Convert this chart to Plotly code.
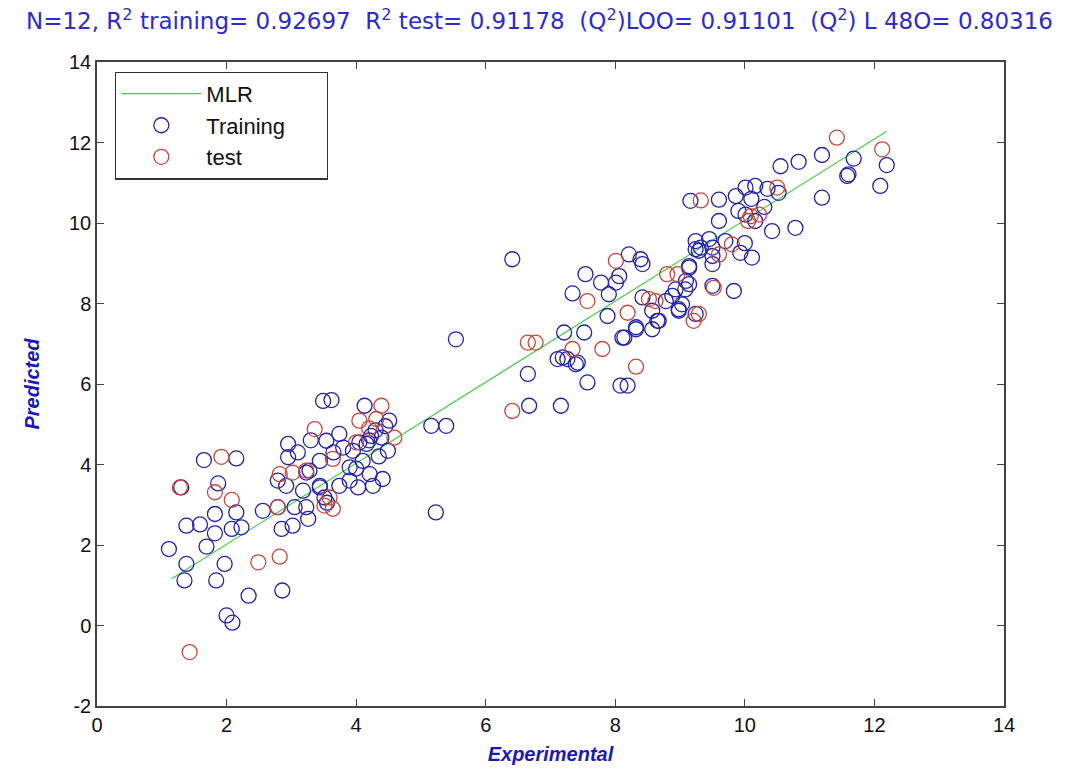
import plotly.graph_objects as go

# Training set (Experimental, Predicted)
train_x = [1.65, 2.15, 1.30, 1.87, 2.15, 1.82, 1.38, 1.59, 1.82, 2.08, 2.23, 1.11, 1.69, 1.38, 1.35, 1.84, 1.97,
           2.34, 2.86, 2.00, 2.09, 2.56, 2.79, 3.05, 2.85, 3.02, 3.26, 2.95, 2.95, 2.79, 2.92, 3.44, 3.23,
           3.49, 3.62, 4.13, 4.51, 4.23, 4.39, 4.16, 4.49, 3.74, 3.54, 3.80, 3.95, 3.28, 3.44, 3.90, 4.10,
           4.21, 3.90, 4.41, 3.44, 3.74, 4.03, 4.26, 3.18, 3.23, 3.51, 4.05, 4.30, 4.45, 4.20, 3.65, 3.10,
           3.30, 3.55, 4.00, 4.35,
           5.23, 5.16, 5.39, 5.54, 6.41, 6.65, 6.67, 7.16, 7.11, 7.26, 7.39, 7.57, 8.08, 8.19, 7.52, 7.21,
           7.19, 7.42, 7.88, 8.14, 8.32, 7.34, 7.54, 7.78, 7.90, 8.01, 8.06, 8.21, 8.39, 8.42, 8.42, 8.57,
           8.65, 8.57, 8.78, 8.88, 8.98, 9.08, 9.14, 9.14, 9.29, 9.50, 9.50, 8.32, 8.11, 8.93, 8.98, 8.67,
           9.24, 9.03,
           9.16, 9.60, 10.01, 10.16, 10.52, 9.86, 10.01, 10.16, 9.60, 10.42, 10.78, 11.19, 11.60, 11.58,
           11.68, 12.19, 12.09, 10.55, 10.83, 11.19, 9.32, 9.50, 9.24, 9.93, 10.11, 9.50, 9.14, 9.09, 9.83,
           9.24, 9.45, 9.70, 10.00, 10.30, 10.10, 10.35, 9.90]
train_y = [4.11, 4.15, 3.43, 3.53, 2.81, 2.77, 2.48, 2.51, 2.29, 2.40, 2.44, 1.90, 1.96, 1.53, 1.12, 1.12, 1.53,
           0.74, 0.87, 0.25, 0.07, 2.85, 2.94, 2.94, 2.40, 2.48, 2.65, 4.51, 4.18, 3.60, 3.47, 3.47, 3.80,
           5.58, 5.60, 5.46, 5.09, 4.71, 4.67, 4.51, 4.34, 4.76, 4.59, 4.42, 4.34, 3.85, 4.09, 3.93, 4.09,
           3.76, 3.60, 3.64, 3.43, 3.47, 3.43, 3.47, 3.35, 2.94, 3.18, 4.55, 4.85, 4.95, 4.60, 4.30, 4.30,
           4.60, 3.05, 3.90, 4.20,
           2.81, 4.96, 4.96, 7.11, 9.10, 6.25, 5.46, 5.46, 6.62, 6.62, 6.49, 6.04, 5.96, 5.96, 7.28, 7.28,
           6.66, 6.53, 7.69, 7.15, 7.36, 8.25, 8.73, 8.52, 8.23, 8.52, 8.68, 9.22, 9.10, 8.98, 8.15, 7.82,
           7.57, 7.36, 8.06, 8.19, 7.82, 8.35, 8.48, 8.93, 9.31, 9.18, 8.44, 7.41, 7.15, 8.35, 7.86, 7.57,
           7.74, 7.98,
           10.55, 10.58, 10.88, 10.92, 10.75, 10.67, 10.21, 10.05, 10.05, 9.80, 9.88, 10.63, 11.21, 11.17,
           11.60, 11.44, 10.92, 11.41, 11.52, 11.69, 9.39, 9.39, 9.35, 9.26, 9.14, 8.98, 8.89, 8.56, 8.31,
           9.55, 9.60, 9.55, 9.50, 10.40, 10.60, 10.85, 10.30]

# Test set (Experimental, Predicted)
test_x = [1.92, 1.28, 1.82, 2.08, 2.49, 2.82, 1.43, 3.36, 3.64, 3.59, 3.23, 4.39, 4.05, 4.31, 4.59, 3.51,
          2.82, 3.02, 2.79, 3.64, 6.41, 6.65, 6.77, 7.34, 7.80, 8.32, 8.19, 8.52, 7.57, 8.01, 8.80, 8.96,
          9.29, 9.21, 9.32, 10.50, 10.09, 10.22, 9.60, 9.80, 9.52, 8.62, 11.42, 12.12, 4.20, 4.00, 10.05]
test_y = [4.19, 3.43, 3.31, 3.12, 1.57, 1.71, -0.66, 4.88, 4.14, 3.18, 3.85, 5.46, 5.09, 5.13, 4.67, 2.98,
          3.76, 3.80, 2.94, 2.90, 5.33, 7.03, 7.03, 6.87, 6.87, 6.43, 7.77, 8.11, 8.06, 9.06, 8.73, 8.73,
          7.74, 7.57, 10.56, 10.88, 10.17, 10.21, 9.22, 9.47, 8.39, 8.06, 12.12, 11.83, 4.90, 4.55, 10.05]

# MLR fit line end points
mlr_x = [1.15, 12.19]
mlr_y = [1.16, 12.28]

x_ticks = [0, 2, 4, 6, 8, 10, 12, 14]
y_ticks = [-2, 0, 2, 4, 6, 8, 10, 12, 14]
y_tick_labels = ["-2", "0", "2", "4", "6", "8", "10", "12", "14"]

FONT = "Liberation Sans, Arial, sans-serif"
NB = "\u00a0"

fig = go.Figure()
fig.add_trace(go.Scatter(x=mlr_x, y=mlr_y, mode="lines", name="MLR",
                         line=dict(color="#44cc44", width=1.1)))
fig.add_trace(go.Scatter(x=train_x, y=train_y, mode="markers", name="Training" + NB * 6,
                         marker=dict(symbol="circle-open", size=15, color="#2222aa",
                                     line=dict(width=1.3, color="#2222aa"))))
fig.add_trace(go.Scatter(x=test_x, y=test_y, mode="markers", name="test",
                         marker=dict(symbol="circle-open", size=15, color="#c8483a",
                                     line=dict(width=1.3, color="#c8483a"))))

axis_common = dict(showgrid=False, zeroline=False, showline=True, linecolor="#444444", linewidth=1.5,
                   mirror="allticks", ticks="inside", ticklen=7, tickcolor="#444444", automargin=False,
                   tickfont=dict(family=FONT, size=20, color="#111111"))

fig.update_layout(
    width=1079, height=770,
    margin=dict(l=97, r=75, t=62, b=64),
    paper_bgcolor="white", plot_bgcolor="white",
    title=dict(text="N=12, R<sup>2</sup> training= 0.92697  R<sup>2</sup> test= 0.91178  (Q<sup>2</sup>)LOO= 0.91101  (Q<sup>2</sup>) L 48O= 0.80316",
               x=0.5, xanchor="center", y=0.983, yanchor="top",
               font=dict(family="DejaVu Sans, sans-serif", size=23, color="#2b2bd0")),
    xaxis=dict(range=[0, 14], tickvals=x_ticks,
               title=dict(text="<b><i>Experimental</i></b>", standoff=12,
                          font=dict(family=FONT, size=20, color="#1a1ab8")),
               **axis_common),
    yaxis=dict(range=[-2, 14], tickvals=y_ticks, ticktext=y_tick_labels,
               title=dict(text="<b><i>Predicted</i></b>", standoff=24,
                          font=dict(family=FONT, size=20, color="#1a1ab8")),
               **axis_common),
    legend=dict(x=0.02, y=0.985, xanchor="left", yanchor="top", bgcolor="white",
                bordercolor="#333333", borderwidth=1.2, itemwidth=80,
                font=dict(family=FONT, size=22, color="#111111")),
    showlegend=True,
)

fig.write_html("out.html")
